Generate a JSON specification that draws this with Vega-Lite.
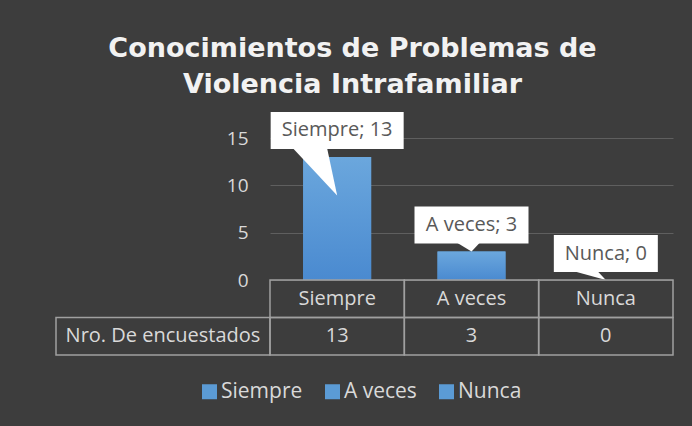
{
  "$schema": "https://vega.github.io/schema/vega-lite/v6.json",
  "background": "#3d3d3d",
  "autosize": "none",
  "width": 617,
  "height": 217,
  "padding": {"left": 56, "top": 138, "right": 19, "bottom": 71},
  "title": {
    "text": ["Conocimientos de Problemas de", "Violencia Intrafamiliar"],
    "anchor": "middle",
    "font": "DejaVu Sans",
    "fontSize": 27,
    "fontWeight": "bold",
    "color": "#f2f2f2",
    "lineHeight": 36,
    "offset": 13,
    "dx": -12
  },
  "datasets": {
    "encuesta": [
      {"categoria": "Siempre", "valor": 13, "etiqueta": "Siempre; 13"},
      {"categoria": "A veces", "valor": 3, "etiqueta": "A veces; 3"},
      {"categoria": "Nunca", "valor": 0, "etiqueta": "Nunca; 0"}
    ],
    "filas": [{"fila": "Nro. De encuestados"}]
  },
  "config": {"view": {"stroke": null}, "font": "Open Sans"},
  "resolve": {"scale": {"x": "independent", "y": "independent"}},
  "layer": [
    {
      "data": {"name": "encuesta"},
      "encoding": {
        "x": {"field": "categoria", "type": "nominal", "sort": null, "scale": {"range": [214, 617], "paddingInner": 0, "paddingOuter": 0}, "axis": null},
        "y": {
          "field": "valor", "type": "quantitative",
          "scale": {"domain": [0, 15], "nice": false, "range": [142, 0]},
          "axis": {"values": [0, 5, 10, 15], "grid": true, "gridColor": "#5f5f5f", "gridWidth": 1, "domain": false, "ticks": false, "tickSize": 0, "offset": -214, "labelPadding": 22, "labelFontSize": 19, "labelColor": "#d9d9d9", "labelFont": "Open Sans", "title": null}
        }
      },
      "layer": [
        {
          "mark": {"type": "bar", "width": {"band": 0.506}},
          "encoding": {
            "color": {
              "field": "categoria", "type": "nominal", "sort": null,
              "scale": {"domain": ["Siempre", "A veces", "Nunca"], "range": ["#5b9bd5", "#5b9bd5", "#5b9bd5"]},
              "legend": {"orient": "none", "legendX": 143, "legendY": 243, "direction": "horizontal", "title": null, "symbolType": "square", "symbolSize": 225, "symbolStrokeWidth": 0, "labelFontSize": 21, "labelColor": "#d9d9d9", "labelFont": "Open Sans", "labelOffset": 1, "columnPadding": 19}
            }
          }
        },
        {
          "mark": {"type": "bar", "width": {"band": 0.506}, "fill": {"gradient": "linear", "x1": 0, "y1": 0, "x2": 0, "y2": 1, "stops": [{"offset": 0, "color": "#6ba7dd"}, {"offset": 1, "color": "#4a8ad0"}]}}
        },
        {
          "transform": [{"filter": "datum.categoria === 'Siempre'"}],
          "layer": [
            {"mark": {"type": "bar", "width": 133, "color": "#ffffff", "yOffset": -45, "y2Offset": -8}, "encoding": {"y2": {"field": "valor"}}},
            {"mark": {"type": "point", "shape": "M -44 0 L -10 0 L 0 47 Z", "filled": true, "color": "#ffffff", "size": 4, "opacity": 1, "strokeWidth": 0, "yOffset": -8.5}}
          ]
        },
        {
          "transform": [{"filter": "datum.categoria === 'A veces'"}],
          "layer": [
            {"mark": {"type": "bar", "width": 114, "color": "#ffffff", "yOffset": -45, "y2Offset": -8}, "encoding": {"y2": {"field": "valor"}}},
            {"mark": {"type": "point", "shape": "M -14 0 L 8 0 L 0 8.5 Z", "filled": true, "color": "#ffffff", "size": 4, "opacity": 1, "strokeWidth": 0, "yOffset": -8.5}}
          ]
        },
        {
          "transform": [{"filter": "datum.categoria === 'Nunca'"}],
          "layer": [
            {"mark": {"type": "bar", "width": 104, "color": "#ffffff", "yOffset": -45, "y2Offset": -8}, "encoding": {"y2": {"field": "valor"}}},
            {"mark": {"type": "point", "shape": "M -31 0 L -8 0 L 0 8.5 Z", "filled": true, "color": "#ffffff", "size": 4, "opacity": 1, "strokeWidth": 0, "yOffset": -8.5}}
          ]
        },
        {
          "mark": {"type": "text", "fontSize": 20, "color": "#595959", "yOffset": -26.5, "baseline": "middle", "font": "Open Sans"},
          "encoding": {"text": {"field": "etiqueta"}}
        }
      ]
    },
    {
      "data": {"name": "encuesta"},
      "encoding": {
        "x": {"field": "categoria", "type": "nominal", "sort": null, "scale": {"range": [214, 617], "paddingInner": 0, "paddingOuter": 0}, "axis": null}
      },
      "layer": [
        {
          "mark": {"type": "rect", "filled": false, "stroke": "#a0a0a0", "strokeWidth": 1.5},
          "encoding": {"y": {"datum": "encabezado", "type": "nominal", "scale": {"domain": ["encabezado", "Nro. De encuestados"], "range": [142, 217], "paddingInner": 0, "paddingOuter": 0}, "axis": null}}
        },
        {
          "mark": {"type": "rect", "filled": false, "stroke": "#a0a0a0", "strokeWidth": 1.5},
          "encoding": {"y": {"datum": "Nro. De encuestados", "type": "nominal"}}
        },
        {
          "mark": {"type": "text", "fontSize": 20, "color": "#d9d9d9", "font": "Open Sans", "baseline": "middle"},
          "encoding": {"y": {"datum": "encabezado", "type": "nominal"}, "text": {"field": "categoria"}}
        },
        {
          "mark": {"type": "text", "fontSize": 20, "color": "#d9d9d9", "font": "Open Sans", "baseline": "middle"},
          "encoding": {"y": {"datum": "Nro. De encuestados", "type": "nominal"}, "text": {"field": "valor"}}
        }
      ]
    },
    {
      "data": {"name": "filas"},
      "encoding": {
        "x": {"field": "fila", "type": "nominal", "scale": {"range": [0, 214], "paddingInner": 0, "paddingOuter": 0}, "axis": null},
        "y": {"field": "fila", "type": "nominal", "scale": {"domain": ["encabezado", "Nro. De encuestados"], "range": [142, 217], "paddingInner": 0, "paddingOuter": 0}, "axis": null}
      },
      "layer": [
        {"mark": {"type": "rect", "filled": false, "stroke": "#a0a0a0", "strokeWidth": 1.5}},
        {"mark": {"type": "text", "fontSize": 20, "color": "#d9d9d9", "font": "Open Sans", "baseline": "middle"}, "encoding": {"text": {"field": "fila"}}}
      ]
    }
  ]
}
